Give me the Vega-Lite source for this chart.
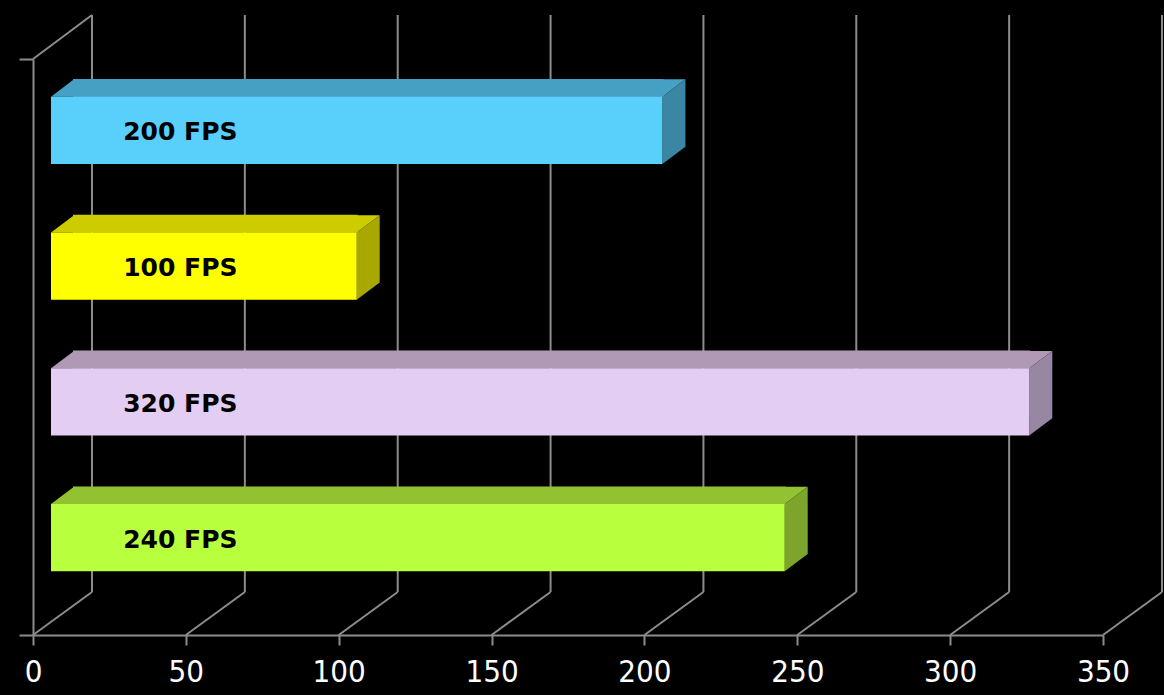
{
  "$schema": "https://vega.github.io/schema/vega-lite/v6.json",
  "width": 1070,
  "height": 576,
  "autosize": {"type": "none"},
  "padding": {"left": 33, "top": 59, "right": 61, "bottom": 60},
  "background": "black",
  "config": {"view": {"stroke": null}},
  "datasets": {
    "bars": [
      {"label": "200 FPS", "fps": 200},
      {"label": "100 FPS", "fps": 100},
      {"label": "320 FPS", "fps": 320},
      {"label": "240 FPS", "fps": 240}
    ],
    "ticks": [{"t": 0}, {"t": 50}, {"t": 100}, {"t": 150}, {"t": 200}, {"t": 250}, {"t": 300}, {"t": 350}],
    "corner": [{"t": 0}]
  },
  "layer": [
    {
      "data": {"name": "ticks"},
      "mark": {"type": "rule", "color": "#8c8c8c", "strokeWidth": 2, "xOffset": 59, "yOffset": -44, "y2Offset": -43},
      "encoding": {
        "x": {
          "field": "t", "type": "quantitative",
          "scale": {"domain": [0, 350], "nice": false, "zero": true},
          "axis": {
            "values": [0, 50, 100, 150, 200, 250, 300, 350], "title": null, "grid": false,
            "labelColor": "white", "labelFont": "DejaVu Sans Condensed", "labelFontSize": 31,
            "labelPadding": 12, "tickSize": 10, "tickColor": "#8c8c8c", "tickWidth": 2,
            "domainColor": "#8c8c8c", "domainWidth": 2, "labelFlush": false, "labelOverlap": false
          }
        },
        "y": {
          "datum": 1, "type": "quantitative", "scale": {"domain": [0, 1]},
          "axis": {
            "orient": "left", "values": [0, 1], "title": null, "labels": false, "grid": false,
            "tickSize": 14, "tickColor": "#8c8c8c", "tickWidth": 2, "domainColor": "#8c8c8c", "domainWidth": 2
          }
        },
        "y2": {"datum": 0}
      }
    },
    {
      "data": {"name": "ticks"},
      "mark": {"type": "rule", "color": "#8c8c8c", "strokeWidth": 2, "x2Offset": 59, "y2Offset": -43},
      "encoding": {
        "x": {"field": "t", "type": "quantitative"},
        "x2": {"field": "t"},
        "y": {"datum": 0, "type": "quantitative", "scale": {"domain": [0, 1]}, "axis": null},
        "y2": {"datum": 0}
      }
    },
    {
      "data": {"name": "corner"},
      "mark": {"type": "rule", "color": "#8c8c8c", "strokeWidth": 2, "x2Offset": 59, "y2Offset": -44},
      "encoding": {
        "x": {"field": "t", "type": "quantitative"},
        "x2": {"field": "t"},
        "y": {"datum": 1, "type": "quantitative", "scale": {"domain": [0, 1]}, "axis": null},
        "y2": {"datum": 1}
      }
    },
    {
      "data": {"name": "bars"},
      "mark": {"type": "rule", "strokeWidth": 18, "strokeCap": "butt", "xOffset": 19, "x2Offset": 40, "yOffset": -55.3},
      "encoding": {
        "x": {"field": "fps", "type": "quantitative"},
        "x2": {"datum": 0},
        "y": {"field": "label", "type": "nominal", "sort": null, "scale": {"type": "band", "paddingInner": 0.5044, "paddingOuter": 0.373}, "axis": null},
        "color": {"field": "label", "type": "nominal", "scale": {"domain": ["200 FPS", "100 FPS", "320 FPS", "240 FPS"], "range": ["#46A0C3", "#CCCC00", "#AF99B5", "#92C232"]}, "legend": null}
      }
    },
    {
      "data": {"name": "bars"},
      "mark": {"type": "point", "shape": "M0,-33.65L23,-50.95L23,-33.65Z", "size": 4, "filled": true, "opacity": 1, "strokeWidth": 0, "xOffset": 18, "yOffset": -13},
      "encoding": {
        "x": {"datum": 0, "type": "quantitative"},
        "y": {"field": "label", "type": "nominal", "sort": null, "scale": {"type": "band", "paddingInner": 0.5044, "paddingOuter": 0.373}, "axis": null},
        "color": {"field": "label", "type": "nominal", "scale": {"domain": ["200 FPS", "100 FPS", "320 FPS", "240 FPS"], "range": ["#46A0C3", "#CCCC00", "#AF99B5", "#92C232"]}, "legend": null}
      }
    },
    {
      "data": {"name": "bars"},
      "mark": {"type": "point", "shape": "M0,-33.65L23,-50.95L0,-50.95Z", "size": 4, "filled": true, "opacity": 1, "strokeWidth": 0, "xOffset": 18, "yOffset": -13},
      "encoding": {
        "x": {"field": "fps", "type": "quantitative"},
        "y": {"field": "label", "type": "nominal", "sort": null, "scale": {"type": "band", "paddingInner": 0.5044, "paddingOuter": 0.373}, "axis": null},
        "color": {"field": "label", "type": "nominal", "scale": {"domain": ["200 FPS", "100 FPS", "320 FPS", "240 FPS"], "range": ["#46A0C3", "#CCCC00", "#AF99B5", "#92C232"]}, "legend": null}
      }
    },
    {
      "data": {"name": "bars"},
      "mark": {"type": "point", "shape": "M0,-33.65L23,-50.95L23,16.35L0,33.65Z", "size": 4, "filled": true, "opacity": 1, "strokeWidth": 0, "xOffset": 18, "yOffset": -13},
      "encoding": {
        "x": {"field": "fps", "type": "quantitative"},
        "y": {"field": "label", "type": "nominal", "sort": null, "scale": {"type": "band", "paddingInner": 0.5044, "paddingOuter": 0.373}, "axis": null},
        "color": {"field": "label", "type": "nominal", "scale": {"domain": ["200 FPS", "100 FPS", "320 FPS", "240 FPS"], "range": ["#3A86A3", "#A8A800", "#9787A2", "#7EA52B"]}, "legend": null}
      }
    },
    {
      "data": {"name": "bars"},
      "mark": {"type": "bar", "xOffset": 18, "x2Offset": 18, "yOffset": -13, "y2Offset": -13},
      "encoding": {
        "x": {"field": "fps", "type": "quantitative"},
        "y": {"field": "label", "type": "nominal", "sort": null, "scale": {"type": "band", "paddingInner": 0.5044, "paddingOuter": 0.373}, "axis": null},
        "color": {"field": "label", "type": "nominal", "scale": {"domain": ["200 FPS", "100 FPS", "320 FPS", "240 FPS"], "range": ["#59CFFB", "#FFFF00", "#E3CDF3", "#B8FF3D"]}, "legend": null}
      }
    },
    {
      "data": {"name": "bars"},
      "mark": {"type": "text", "align": "left", "baseline": "middle", "font": "DejaVu Sans", "fontWeight": "bold", "fontSize": 25, "color": "black", "yOffset": -11},
      "encoding": {
        "x": {"datum": 29.5, "type": "quantitative"},
        "y": {"field": "label", "type": "nominal", "sort": null, "scale": {"type": "band", "paddingInner": 0.5044, "paddingOuter": 0.373}, "axis": null},
        "text": {"field": "label"}
      }
    }
  ],
  "resolve": {"scale": {"y": "independent", "color": "independent"}}
}
